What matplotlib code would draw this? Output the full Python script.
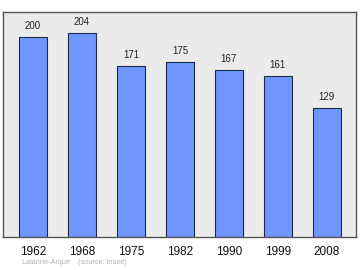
import matplotlib
matplotlib.use('Agg')
import matplotlib.pyplot as plt

years = ['1962', '1968', '1975', '1982', '1990', '1999', '2008']
population = [200, 204, 171, 175, 167, 161, 129]

plt.rcParams['font.family'] = ['Liberation Sans', 'DejaVu Sans']

fig = plt.figure(figsize=(3.6, 2.7), dpi=100)
ax = fig.add_axes([0.0097, 0.1222, 0.978, 0.832])
ax.set_facecolor('#ebebeb')

xs = range(len(years))
bars = ax.bar(xs, population, width=0.571, color='#7096ff',
              edgecolor='#1f2a4a', linewidth=0.8, zorder=2)

for x, v in zip(xs, population):
    ax.text(x, v + 6, str(v), ha='center', va='bottom',
            fontsize=7, color='#222222')

ax.set_xlim(-0.602, 6.586)
ax.set_ylim(0, 225)
ax.set_xticks(list(xs))
ax.set_xticklabels(years, fontsize=8.5, color='#111111')
ax.tick_params(axis='x', length=0, pad=6.5)
ax.set_yticks([])

for side in ax.spines.values():
    side.set_color('#555555')
    side.set_linewidth(1.0)

fig.text(0.061, 0.013, 'Lalanne-Arqué    (source: Insee)', fontsize=5.3,
         color='#b0b0b0', ha='left', va='bottom')

fig.savefig('out.png', dpi=100)
